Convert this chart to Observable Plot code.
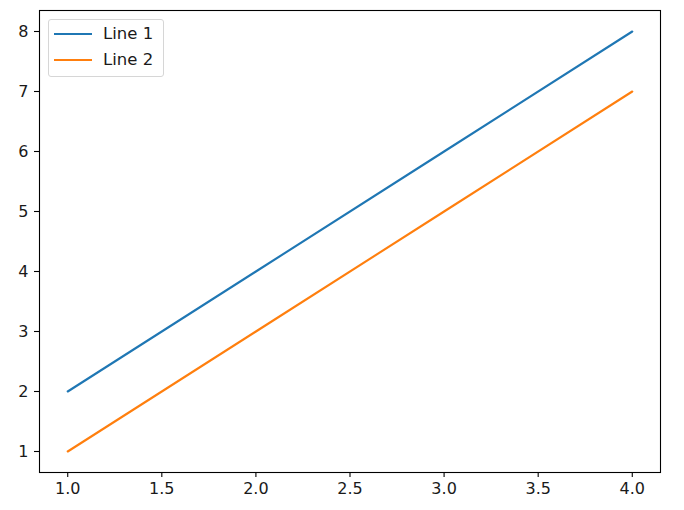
<!DOCTYPE html>
<html>
<head>
<meta charset="utf-8">
<script src="https://cdn.jsdelivr.net/npm/d3@7"></script>
<script src="https://cdn.jsdelivr.net/npm/@observablehq/plot@0.6"></script>
<style>
  html, body { margin: 0; padding: 0; background: #fff; }
  #wrap { position: relative; width: 684px; height: 510px; font-family: "DejaVu Sans", sans-serif; }
  #legend { position: absolute; left: 48px; top: 19px; width: 114px; height: 56px;
    border: 1px solid #d6d6d6; border-radius: 3px; background: rgba(255,255,255,0.8);
    box-sizing: content-box; }
  .item { position: absolute; left: 0; height: 20px; }
  .swatch { position: absolute; left: 5px; width: 38px; height: 2px; }
  .lab { position: absolute; left: 54px; font-size: 16.5px; color: #1a1a1a; white-space: nowrap; line-height: 20px; }
</style>
</head>
<body>
<div id="wrap"></div>
<script>
const xs = [1, 2, 3, 4];
const line1 = [2, 4, 6, 8];
const line2 = [1, 3, 5, 7];
const seriesNames = ["Line 1", "Line 2"];
const seriesColors = ["#1f77b4", "#ff7f0e"];
const xTicks = [1.0, 1.5, 2.0, 2.5, 3.0, 3.5, 4.0];
const yTicks = [1, 2, 3, 4, 5, 6, 7, 8];

const rows = [];
[line1, line2].forEach((vals, k) => {
  xs.forEach((x, i) => rows.push({x, y: vals[i], s: seriesNames[k]}));
});

const chart = Plot.plot({
  width: 684,
  height: 510,
  marginLeft: 39,
  marginRight: 24,
  marginTop: 10,
  marginBottom: 38,
  style: {fontFamily: "DejaVu Sans, sans-serif", fontSize: "16px", color: "#1a1a1a", background: "#fff"},
  x: {domain: [0.85, 4.15], label: null},
  y: {domain: [0.65, 8.35], label: null},
  color: {domain: seriesNames, range: seriesColors},
  marks: [
    Plot.axisX({ticks: xTicks, tickFormat: d3.format(".1f"), tickSize: 5, tickPadding: 5, fontSize: 16, stroke: "#000", strokeWidth: 1.1}),
    Plot.axisY({ticks: yTicks, tickFormat: d3.format("d"), tickSize: 5, tickPadding: 6, fontSize: 16, stroke: "#000", strokeWidth: 1.1}),
    Plot.line(rows, {x: "x", y: "y", z: "s", stroke: "s", strokeWidth: 2.1}),
    Plot.frame({stroke: "#000", strokeWidth: 1.1})
  ]
});

const wrap = document.getElementById("wrap");
wrap.appendChild(chart);

const legend = document.createElement("div");
legend.id = "legend";
seriesNames.forEach((name, i) => {
  const item = document.createElement("div");
  item.className = "item";
  item.style.top = (4 + i * 26) + "px";
  item.style.width = "114px";
  const sw = document.createElement("div");
  sw.className = "swatch";
  sw.style.background = seriesColors[i];
  sw.style.top = "9px";
  const lab = document.createElement("div");
  lab.className = "lab";
  lab.style.top = "0px";
  lab.textContent = name;
  item.appendChild(sw);
  item.appendChild(lab);
  legend.appendChild(item);
});
wrap.appendChild(legend);
</script>
</body>
</html>
